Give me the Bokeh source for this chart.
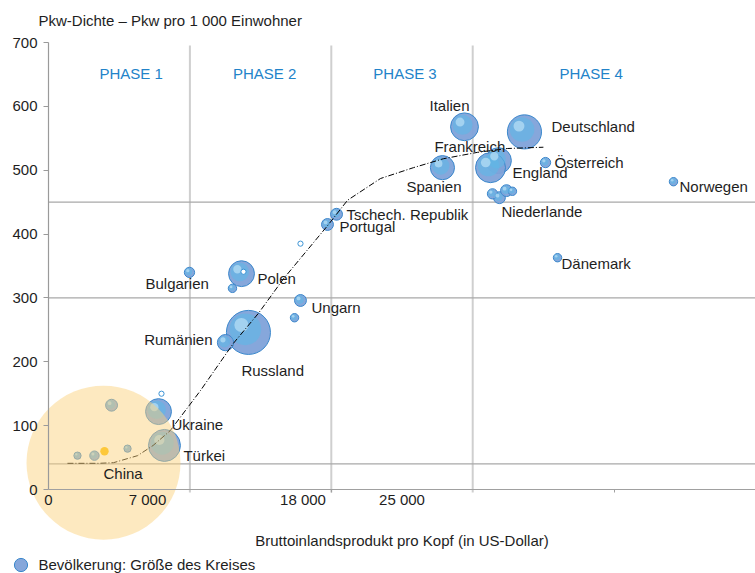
import numpy as np
from bokeh.plotting import figure
from bokeh.models import (ColumnDataSource, Range1d, LinearAxis, FixedTicker,
                          Label, Legend, LegendItem)
from bokeh.core.properties import value
from bokeh.embed import file_html
from bokeh.resources import INLINE

# ---------------- data ----------------
countries = ["Italien", "Deutschland", "Frankreich", "England", "Spanien",
             "Österreich", "Niederlande", "", "", "", "Norwegen", "Dänemark",
             "Tschech. Republik", "Portugal", "", "Bulgarien", "Polen", "", "",
             "Ungarn", "", "Russland", "Rumänien", "Ukraine", "", "Türkei",
             "", "", "", "", "", "China"]
gdp = [29420, 33660, 31820, 31260, 27860,
       35150, 31890, 31400, 32390, 32810, 44200, 36000,
       20370, 19730, 17820, 9970, 13650, 13010, 13790,
       17820, 17400, 14140, 12520, 7780, 7990, 8200,
       4460, 2050, 3250, 3960, 5590, 3890]
cars = [568, 560, 515, 504, 504,
        512, 457, 463, 468, 467, 482, 363,
        431, 415, 385, 340, 338, 315, 341,
        296, 269, 246, 230, 122, 150, 69,
        132, 53, 53, 60, 64, 42]
population = [44, 66, 38, 51, 33,
              6, 8, 6, 8, 4, 4, 4,
              8, 8, 1, 6, 38, 4, 1,
              8, 4, 110, 15, 38, 1, 58,
              8, 3, 5, 4, 3, 1344]

trend_gdp = [1340, 3540, 4600, 6300, 7400, 8600, 9830, 10750, 13080, 14850,
             16620, 19730, 21150, 23480, 25810, 27930, 30340, 32460, 35000]
trend_cars = [41, 41, 42, 53, 69, 92, 128, 155, 229, 276,
              330, 413, 453, 487, 504, 518, 528, 534, 536]

x_tick_values = [0, 7000, 18000, 25000]
x_tick_labels = ["0", "7 000", "18 000", "25 000"]
x_minor_ticks = [20000, 40000]
y_tick_values = [0, 100, 200, 300, 400, 500, 600, 700]
phase_bounds = [0, 10000, 20000, 30000, 50000]
phase_names = ["PHASE 1", "PHASE 2", "PHASE 3", "PHASE 4"]
level_lines = [40, 300, 450]

title_text = "Pkw-Dichte – Pkw pro 1 000 Einwohner"
x_title = "Bruttoinlandsprodukt pro Kopf (in US-Dollar)"
legend_text = "Bevölkerung: Größe des Kreises"

# ---------------- layout constants ----------------
W, H = 755, 573
FRAME_W, FRAME_H = 707, 447          # axis area in px
LEFT, TOP = 48, 42                    # px from figure edge to axes origin
X_MAX, Y_MAX = phase_bounds[-1], y_tick_values[-1]
UX = X_MAX / FRAME_W                  # data units per px
UY = Y_MAX / FRAME_H
BOTTOM = H - TOP - FRAME_H

FONT = "Liberation Sans"
TXT = "#1e1e1e"

p = figure(width=W, height=H,
           x_range=Range1d(-LEFT * UX, X_MAX),
           y_range=Range1d(-BOTTOM * UY, Y_MAX + TOP * UY),
           x_axis_type=None, y_axis_type=None,
           output_backend="svg", toolbar_location=None, min_border=0)
p.outline_line_color = None
p.background_fill_color = "white"

# axes, fixed at the data origin
xaxis = LinearAxis(fixed_location=0, bounds=(0, X_MAX),
                   ticker=FixedTicker(ticks=x_tick_values, minor_ticks=x_minor_ticks),
                   major_label_overrides={v: s for v, s in zip(x_tick_values, x_tick_labels)})
xaxis.axis_line_color = "#a0a0a0"
xaxis.axis_line_width = 1.2
xaxis.major_tick_out = 0
xaxis.major_tick_in = 0
xaxis.minor_tick_out = 3
xaxis.minor_tick_in = 0
xaxis.minor_tick_line_color = "#a0a0a0"
xaxis.major_label_standoff = -2
xaxis.major_label_text_font = FONT
xaxis.major_label_text_font_size = "15px"
xaxis.major_label_text_color = TXT
xaxis.axis_label = x_title
xaxis.axis_label_text_font = FONT
xaxis.axis_label_text_font_size = "15px"
xaxis.axis_label_text_font_style = "normal"
xaxis.axis_label_text_color = TXT
xaxis.axis_label_standoff = 21
p.add_layout(xaxis, "below")

yaxis = LinearAxis(fixed_location=0, bounds=(0, Y_MAX),
                   ticker=FixedTicker(ticks=y_tick_values, minor_ticks=[]))
yaxis.axis_line_color = "#9a9a9a"
yaxis.axis_line_width = 1.2
yaxis.major_tick_out = 5
yaxis.major_tick_in = 0
yaxis.major_tick_line_color = "#9a9a9a"
yaxis.minor_tick_out = 0
yaxis.minor_tick_in = 0
yaxis.major_label_standoff = 6
yaxis.major_label_text_font = FONT
yaxis.major_label_text_font_size = "15px"
yaxis.major_label_text_color = TXT
p.add_layout(yaxis, "left")

# phase separators and level lines
vb = phase_bounds[1:-1]
p.segment(x0=vb, x1=vb, y0=[-3 * UY] * len(vb), y1=[Y_MAX - 3 * UY] * len(vb),
          line_color="#cfcfcf", line_width=2)
p.segment(x0=[0] * len(level_lines), x1=[X_MAX] * len(level_lines),
          y0=level_lines, y1=level_lines, line_color="#a8a8a8", line_width=1.3)

# bubbles
gdp_a = np.array(gdp, float)
cars_a = np.array(cars, float)
pop_a = np.array(population, float)
size = 4.2 * np.sqrt(pop_a)
names = np.array(countries)
is_china = names == "China"
is_hollow = pop_a < 1.5
is_yellow = np.zeros(len(gdp), bool)
is_yellow[29] = True
is_blue = ~(is_china | is_hollow | is_yellow)

b = is_blue
src_out = ColumnDataSource(dict(x=gdp_a[b], y=cars_a[b], s=size[b]))
blue_r = p.scatter("x", "y", size="s", source=src_out, fill_color="#7fa2d9",
                   line_color="#3a88cc", line_width=1, fill_alpha=0.95)
src_mid = ColumnDataSource(dict(x=gdp_a[b] - 0.07 * size[b] * UX,
                                y=cars_a[b] + 0.07 * size[b] * UY, s=size[b] * 0.72))
p.scatter("x", "y", size="s", source=src_mid, fill_color="#5fb8e6",
          line_color=None, fill_alpha=0.6)
src_hi = ColumnDataSource(dict(x=gdp_a[b] - 0.16 * size[b] * UX,
                               y=cars_a[b] + 0.17 * size[b] * UY, s=size[b] * 0.32))
p.scatter("x", "y", size="s", source=src_hi, fill_color="#b5def4",
          line_color=None, fill_alpha=0.75)

h = is_hollow
p.scatter(gdp_a[h], cars_a[h], size=size[h] + 1, fill_color="white",
          line_color="#3d95d6", line_width=1)
y_ = is_yellow
p.scatter(gdp_a[y_], cars_a[y_], size=size[y_], fill_color="#ffc000", line_color=None)

# trend line
p.line(trend_gdp, trend_cars, line_color="black", line_width=1, line_dash="6 2 1 2")

# China population circle on top
c = is_china
p.scatter(gdp_a[c], cars_a[c], size=size[c], fill_color="#fbd07c",
          fill_alpha=0.48, line_color=None)

# country labels: (dx px, dy px, align)
label_layout = {
    "Italien": (-35, -21, "left"), "Deutschland": (27, -5, "left"),
    "Frankreich": (-64, -14, "left"), "England": (22, 5, "left"),
    "Spanien": (-36, 19, "left"), "Österreich": (9, 0, "left"),
    "Niederlande": (2, 14, "left"), "Norwegen": (6, 5, "left"),
    "Dänemark": (4, 6, "left"), "Tschech. Republik": (10, 0, "left"),
    "Portugal": (12, 2, "left"), "Bulgarien": (-44, 11, "left"),
    "Polen": (16, 5, "left"), "Ungarn": (11, 7, "left"),
    "Rumänien": (-13, -3, "right"), "Russland": (-7, 38, "left"),
    "Ukraine": (13, 13, "left"), "Türkei": (19, 10, "left"),
    "China": (0, 11, "left"),
}
lab = dict(x=[], y=[], t=[], dx=[], dy=[], al=[])
for i, n in enumerate(countries):
    if n in label_layout:
        dx, dy, al = label_layout[n]
        lab["x"].append(gdp[i]); lab["y"].append(cars[i]); lab["t"].append(n)
        lab["dx"].append(dx); lab["dy"].append(dy); lab["al"].append(al)
p.text("x", "y", text="t", x_offset="dx", y_offset="dy", text_align="al",
       source=ColumnDataSource(lab), text_baseline="middle",
       text_font=value(FONT), text_font_size="15px", text_color=TXT)

# phase labels
mids = [(a + b2) / 2 for a, b2 in zip(phase_bounds[:-1], phase_bounds[1:])]
p.text(x=mids, y=[Y_MAX] * 4, text=phase_names, x_offset=[12, 4, 3, -23],
       y_offset=[31] * 4, text_align="center", text_baseline="middle",
       text_font=value(FONT), text_font_size="15px", text_color="#2283c9")

# title (y axis description)
p.add_layout(Label(x=LEFT - 10, y=H - 20, x_units="screen", y_units="screen",
                   text=title_text, text_baseline="middle", text_font=FONT,
                   text_font_size="15px", text_color=TXT))

# legend (refers to the bubble renderer)
leg = Legend(items=[LegendItem(label=legend_text, renderers=[blue_r], index=0)],
             location=(3.5, -8), padding=0, margin=0, spacing=0,
             glyph_width=33, glyph_height=33, label_standoff=2,
             border_line_color=None, background_fill_alpha=0,
             label_text_font=FONT, label_text_font_size="15px",
             label_text_color=TXT)
p.add_layout(leg)

open("out.html", "w").write(file_html(p, INLINE))
